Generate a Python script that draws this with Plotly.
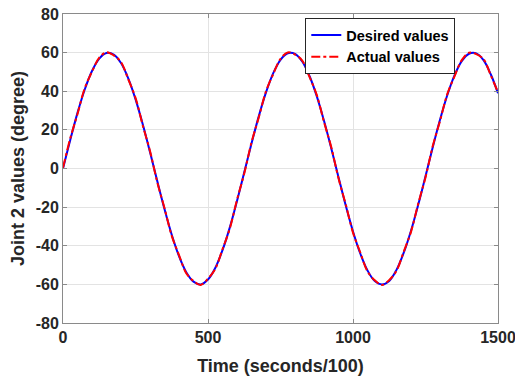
import plotly.graph_objects as go

time = [0, 25, 50, 75, 100, 125, 150, 175, 200, 225, 250, 275, 300, 325, 350, 375, 400,
        425, 450, 475, 500, 525, 550, 575, 600, 625, 650, 675, 700, 725, 750, 775, 800,
        825, 850, 875, 900, 925, 950, 975, 1000, 1025, 1050, 1075, 1100, 1125, 1150, 1175,
        1200, 1225, 1250, 1275, 1300, 1325, 1350, 1375, 1400, 1425, 1450, 1475, 1500]

desired = [0.0, 14.8, 28.8, 40.9, 50.5, 56.9, 59.8, 59.0, 54.6, 46.7, 35.9, 22.9, 8.5,
           -6.5, -21.0, -34.3, -45.4, -53.7, -58.6, -60.0, -57.5, -51.5, -42.3, -30.6,
           -16.8, -2.0, 12.9, 27.0, 39.4, 49.4, 56.3, 59.7, 59.4, 55.4, 47.9, 37.5, 24.7,
           10.5, -4.5, -19.2, -32.6, -44.0, -52.8, -58.3, -60.0, -58.2, -52.5, -43.6,
           -32.2, -18.7, -4.0, 11.0, 25.2, 37.9, 48.2, 55.6, 59.4, 59.6, 56.1, 48.8, 39.0]

actual = [0.4, 15.6, 28.2, 41.6, 50.1, 57.4, 60.2, 58.6, 55.1, 46.2, 36.6, 22.3, 9.1,
          -7.1, -20.5, -34.9, -44.8, -54.2, -58.2, -60.3, -57.0, -52.0, -41.8, -31.2,
          -16.2, -2.6, 13.5, 26.4, 40.0, 48.9, 56.8, 60.1, 59.0, 55.9, 47.4, 38.1, 24.1,
          11.1, -5.1, -18.6, -33.2, -43.4, -53.3, -57.9, -60.3, -57.7, -53.0, -43.0,
          -32.8, -18.1, -4.6, 11.6, 24.6, 38.5, 47.7, 56.1, 59.9, 59.2, 56.6, 48.3, 39.4]

x_ticks = [0, 500, 1000, 1500]
y_ticks = [-80, -60, -40, -20, 0, 20, 40, 60, 80]

font_family = "Liberation Sans, Arial, sans-serif"

fig = go.Figure()
fig.add_trace(go.Scatter(
    x=time, y=desired, mode="lines", name="<b>Desired values</b>",
    line=dict(color="#0000ff", width=2, shape="spline"),
))
fig.add_trace(go.Scatter(
    x=time, y=actual, mode="lines", name="<b>Actual values</b>",
    line=dict(color="#ff0000", width=2, dash="dashdot", shape="spline"),
))

axis_common = dict(
    showgrid=True, gridcolor="#e3e3e3", gridwidth=1,
    showline=True, linecolor="#8a8a8a", linewidth=1, mirror="ticks",
    ticks="inside", ticklen=4, tickcolor="#8a8a8a",
    zeroline=False, automargin=False, ticklabeloverflow="allow",
    tickfont=dict(family=font_family, size=16, color="#262626", weight="bold"),
)

fig.update_xaxes(
    range=[0, 1500], tickvals=x_ticks, ticktext=[str(v) for v in x_ticks],
    title=dict(text="<b>Time (seconds/100)</b>", font=dict(family=font_family, size=18, color="#262626"), standoff=14),
    **axis_common,
)
fig.update_yaxes(
    range=[-80, 80], tickvals=y_ticks, ticktext=[str(v) for v in y_ticks],
    title=dict(text="<b>Joint 2 values (degree)</b>", font=dict(family=font_family, size=18, color="#262626"), standoff=6),
    **axis_common,
)

fig.update_layout(
    width=515, height=378,
    margin=dict(l=63, r=17, t=14, b=55),
    paper_bgcolor="white", plot_bgcolor="white",
    showlegend=True,
    legend=dict(
        x=0.557, y=0.987, xanchor="left", yanchor="top",
        bgcolor="white", bordercolor="#262626", borderwidth=1,
        font=dict(family=font_family, size=14.5, color="#000000"),
        tracegroupgap=0, itemwidth=30,
    ),
)

fig.write_html("out.html")
